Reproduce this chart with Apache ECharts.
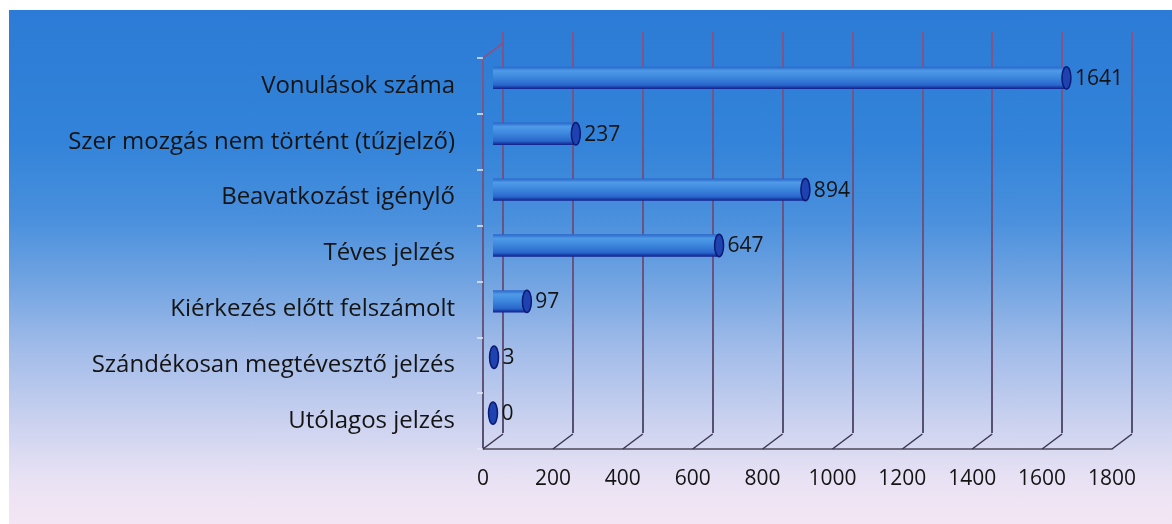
<!DOCTYPE html>
<html>
<head>
<meta charset="utf-8">
<script src="https://cdn.jsdelivr.net/npm/echarts@6/dist/echarts.min.js"></script>
<style>
  html, body { margin: 0; padding: 0; background: #ffffff; }
  #bg {
    position: absolute; left: 9px; top: 10px; width: 1163px; height: 514px;
    background: linear-gradient(to bottom,
      #2c7bd6 0px, #3283d9 130px, #4a90dd 210px, #70a3e1 270px,
      #a2bce9 340px, #cfd4f0 420px, #e9e2f4 470px, #f4e6f3 514px);
  }
  #chart { position: absolute; left: 0; top: 0; width: 1172px; height: 524px; }
</style>
</head>
<body>
<div id="bg"></div>
<div id="chart"></div>
<script>
// adatok
const categories = [
  'Vonulások száma',
  'Szer mozgás nem történt (tűzjelző)',
  'Beavatkozást igénylő',
  'Téves jelzés',
  'Kiérkezés előtt felszámolt',
  'Szándékosan megtévesztő jelzés',
  'Utólagos jelzés'
];
const values = [1641, 237, 894, 647, 97, 3, 0];
const axisTicks = [0, 200, 400, 600, 800, 1000, 1200, 1400, 1600, 1800];

// 3D mélység eltolás (hátsó fal)
const DX = 20, DY = -15;
const FONT = 'Open Sans';

const chart = echarts.init(document.getElementById('chart'));

const wallLine = new echarts.graphic.LinearGradient(0, 0, 0, 1, [
  { offset: 0, color: '#a04a6c' },
  { offset: 0.6, color: '#6a3a5e' },
  { offset: 1, color: '#2a2444' }
]);

const barFill = new echarts.graphic.LinearGradient(0, 0, 0, 1, [
  { offset: 0, color: '#2a64c8' },
  { offset: 0.18, color: '#4f9be8' },
  { offset: 0.5, color: '#3b86dc' },
  { offset: 0.82, color: '#2a66cc' },
  { offset: 1, color: '#0f1f8a' }
]);

// henger alakú oszlop
const renderCylinder = (params, api) => {
  const v = api.value(0);
  const c = api.value(1);
  const start = api.coord([0, c]);
  const end = api.coord([v, c]);
  const h = api.size([0, 1])[1] * 0.4;
  const rx = h * 0.2;
  const children = [];
  if (end[0] - start[0] > 0.5) {
    children.push({
      type: 'rect',
      shape: { x: start[0], y: end[1] - h / 2, width: end[0] - start[0], height: h },
      style: { fill: barFill }
    });
  }
  children.push({
    type: 'ellipse',
    shape: { cx: end[0], cy: end[1], rx: rx, ry: h / 2 },
    style: { fill: '#1e42b0', stroke: '#0c1a74', lineWidth: 1.5 }
  });
  children.push({
    type: 'text',
    style: {
      x: end[0] + rx + 4, y: end[1] + 1,
      text: String(v),
      fill: '#141414',
      font: '21px "' + FONT + '"',
      verticalAlign: 'middle',
      align: 'left'
    }
  });
  return { type: 'group', children: children };
};

// padló átlós vonalai
const renderFloor = (params, api) => {
  const v = api.value(0);
  const p = api.coord([v, 0]);
  const cs = params.coordSys;
  const yb = cs.y + cs.height;
  const children = [{
    type: 'line',
    shape: { x1: p[0], y1: yb, x2: p[0] + DX, y2: yb + DY },
    style: { stroke: '#3a3550', lineWidth: 1.5 }
  }];
  if (v === 0) {
    children.push({
      type: 'line',
      shape: { x1: p[0], y1: cs.y, x2: p[0] + DX, y2: cs.y + DY },
      style: { stroke: '#a04a6c', lineWidth: 1.5 }
    });
  }
  return { type: 'group', children: children };
};

const option = {
  animation: false,
  grid: [
    { left: 483, right: 60, top: 58, bottom: 75 },   // első sík
    { left: 493, right: 50, top: 50, bottom: 83 },   // oszlopok
    { left: 503, right: 40, top: 32, bottom: 91 }    // hátsó fal
  ],
  xAxis: [
    {
      gridIndex: 0, type: 'value', min: 0, max: 1800, interval: 200,
      axisLine: { show: true, lineStyle: { color: '#4a4a5a', width: 1.5 } },
      axisTick: { show: false },
      splitLine: { show: false },
      axisLabel: {
        color: '#141414', fontSize: 21, fontFamily: FONT, margin: 20,
        formatter: val => String(val)
      }
    },
    {
      gridIndex: 1, type: 'value', min: 0, max: 1800, interval: 200,
      show: false
    },
    {
      gridIndex: 2, type: 'value', min: 0, max: 1800, interval: 200,
      axisLine: { show: false }, axisTick: { show: false }, axisLabel: { show: false },
      splitLine: { show: true, lineStyle: { color: wallLine, width: 1.5 } }
    }
  ],
  yAxis: [
    {
      gridIndex: 0, type: 'category', data: categories, inverse: true,
      axisLine: { show: true, lineStyle: { color: wallLine, width: 1.5 } },
      axisTick: { show: true, length: 6, lineStyle: { color: '#e8e8f4', width: 1.5 } },
      axisLabel: { color: '#141414', fontSize: 24, fontFamily: FONT, margin: 28 }
    },
    {
      gridIndex: 1, type: 'category', data: categories, inverse: true, show: false
    },
    {
      gridIndex: 2, type: 'category', data: categories, inverse: true, show: false
    }
  ],
  series: [
    {
      type: 'custom',
      xAxisIndex: 0, yAxisIndex: 0,
      renderItem: renderFloor,
      data: axisTicks.map(t => [t, 0]),
      encode: { x: 0, y: 1 },
      silent: true,
      z: 1
    },
    {
      type: 'custom',
      xAxisIndex: 1, yAxisIndex: 1,
      renderItem: renderCylinder,
      data: values.map((v, i) => [v, i]),
      encode: { x: 0, y: 1 },
      z: 5
    }
  ]
};

chart.setOption(option);
</script>
</body>
</html>
